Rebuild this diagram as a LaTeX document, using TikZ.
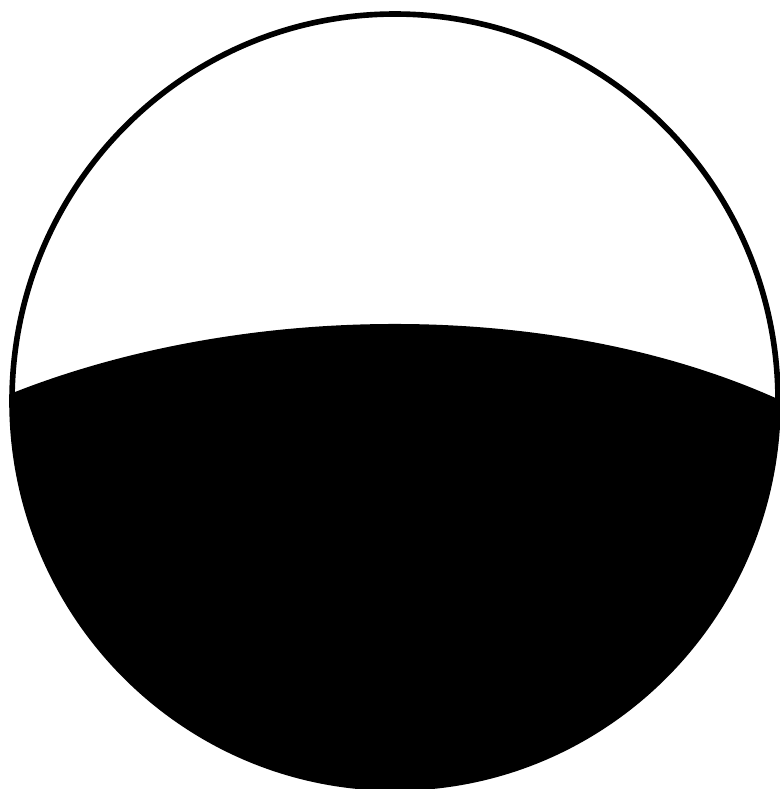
\documentclass[tikz,border=0pt]{standalone}
\usepackage{tikz}

\begin{document}
\begin{tikzpicture}[x=0.1mm, y=-0.1mm]
\useasboundingbox (0,0) rectangle (780,789);
% dark lower part, bounded by the circle
\begin{scope}
  \clip (395,401) ellipse (383 and 387);
  \fill[black] (15,392) .. controls (250,300) and (560,300) .. (780,400)
    -- (800,800) -- (0,800) -- cycle;
\end{scope}
% outline
\draw[line width=1.6pt] (395,401) ellipse (383 and 387);
\end{tikzpicture}
\end{document}
